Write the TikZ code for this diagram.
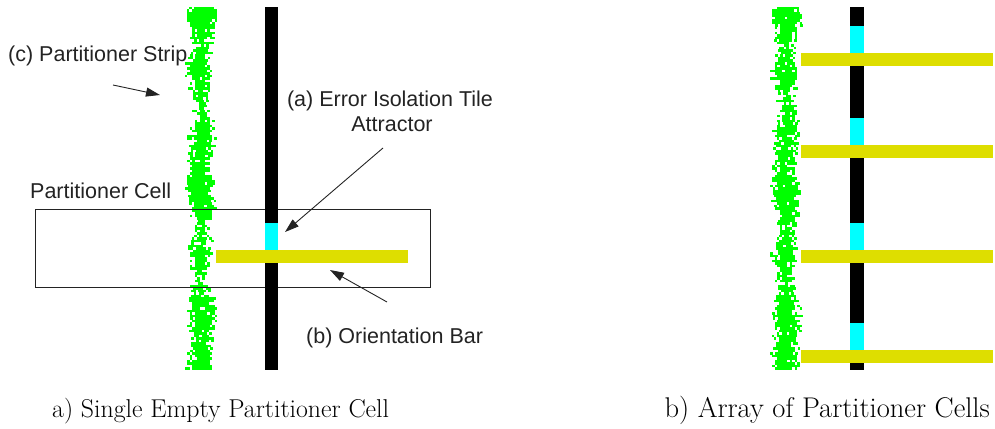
\documentclass[tikz,border=0pt]{standalone}
\usepackage{fontspec}
\newfontfamily\labelfont{Liberation Sans}
\usetikzlibrary{arrows.meta}

\definecolor{stripgreen}{RGB}{0,255,0}
\definecolor{tilecyan}{RGB}{0,255,255}
\definecolor{baryellow}{RGB}{222,222,0}
\definecolor{inkgray}{RGB}{35,35,35}

\tikzset{
  lbl/.style={font=\labelfont\fontsize{21.5}{25}\selectfont, text=inkgray, inner sep=0pt},
  caption/.style={font=\fontsize{#1}{30}\selectfont, text=black, inner sep=0pt},
  pointer/.style={draw=inkgray, line width=0.9pt, -{Triangle[length=14pt,width=9pt]}},
  cellbox/.style={draw=inkgray, line width=0.9pt},
}

% speckled strip of green pixels centred on x = #1
\newcommand\speckstrip[1]{%
  \foreach \yy in {7,9.5,...,367} {%
    \pgfmathsetmacro\hw{9+2.5*sin(\yy*6.1)+2*sin(\yy*2.3+40)+2*rnd}%
    \pgfmathsetmacro\cx{#1+1.5*sin(\yy*3.7)}%
    \foreach \dx in {-15,-12.5,...,12.5} {%
      \pgfmathsetmacro\ad{abs(\dx+1.25)}%
      \pgfmathsetmacro\pr{\ad<\hw-5 ? 0.95 : (\ad<\hw ? 0.65 : (\ad<\hw+3 ? 0.18 : 0))}%
      \pgfmathtruncatemacro\hit{rnd<\pr}%
      \ifnum\hit=1 \fill[stripgreen] (\cx+\dx,\yy) rectangle ++(2.5,2.5);\fi
    }%
  }%
}

\begin{document}
\begin{tikzpicture}[x=1pt,y=-1pt]
\useasboundingbox (0,0) rectangle (995,428);
\pgfmathsetseed{11}

% ---------------- left panel: one partitioner cell ----------------
\speckstrip{201}
\draw[cellbox] (35,209.5) rectangle (430,287.5);
\fill[black] (265,7) rectangle (278,370);
\fill[tilecyan] (265,222.7) rectangle (278,250);
\fill[baryellow] (216,250) rectangle (408,263);

\node[lbl, anchor=base west] (lblC) at (8,61) {(c) Partitioner Strip};
\node[lbl, anchor=base, align=center] (lblA) at (390,106.5) {(a) Error Isolation Tile};
\node[lbl, anchor=base] (lblA2) at (392,131.5) {Attractor};
\node[lbl, anchor=base west] (lblCell) at (30,198) {Partitioner Cell};
\node[lbl, anchor=base west] (lblB) at (306,343) {(b) Orientation Bar};

\coordinate (cTail) at (113,85);
\coordinate (cTip) at (160,95);
\coordinate (aTail) at (383,148);
\coordinate (aTip) at (285,232);
\coordinate (bTail) at (387,302);
\coordinate (bTip) at (330,270);
\draw[pointer] (cTail) -- (cTip);
\draw[pointer] (aTail) -- (aTip);
\draw[pointer] (bTail) -- (bTip);

% ---------------- right panel: array of cells ----------------
\speckstrip{786}
\fill[black] (850,7) rectangle (863.5,370);
\foreach \top in {53,144.5,250,350} {
  \fill[tilecyan] (850,\top-27) rectangle (863.5,\top);
  \fill[baryellow] (801,\top) rectangle (993,\top+13);
}

% ---------------- captions ----------------
\node[caption=25.8, anchor=base west] (capA) at (52,417) {a) Single Empty Partitioner Cell};
\node[caption=28.5, anchor=base east] (capB) at (990,417) {b) Array of Partitioner Cells};
\end{tikzpicture}
\end{document}
